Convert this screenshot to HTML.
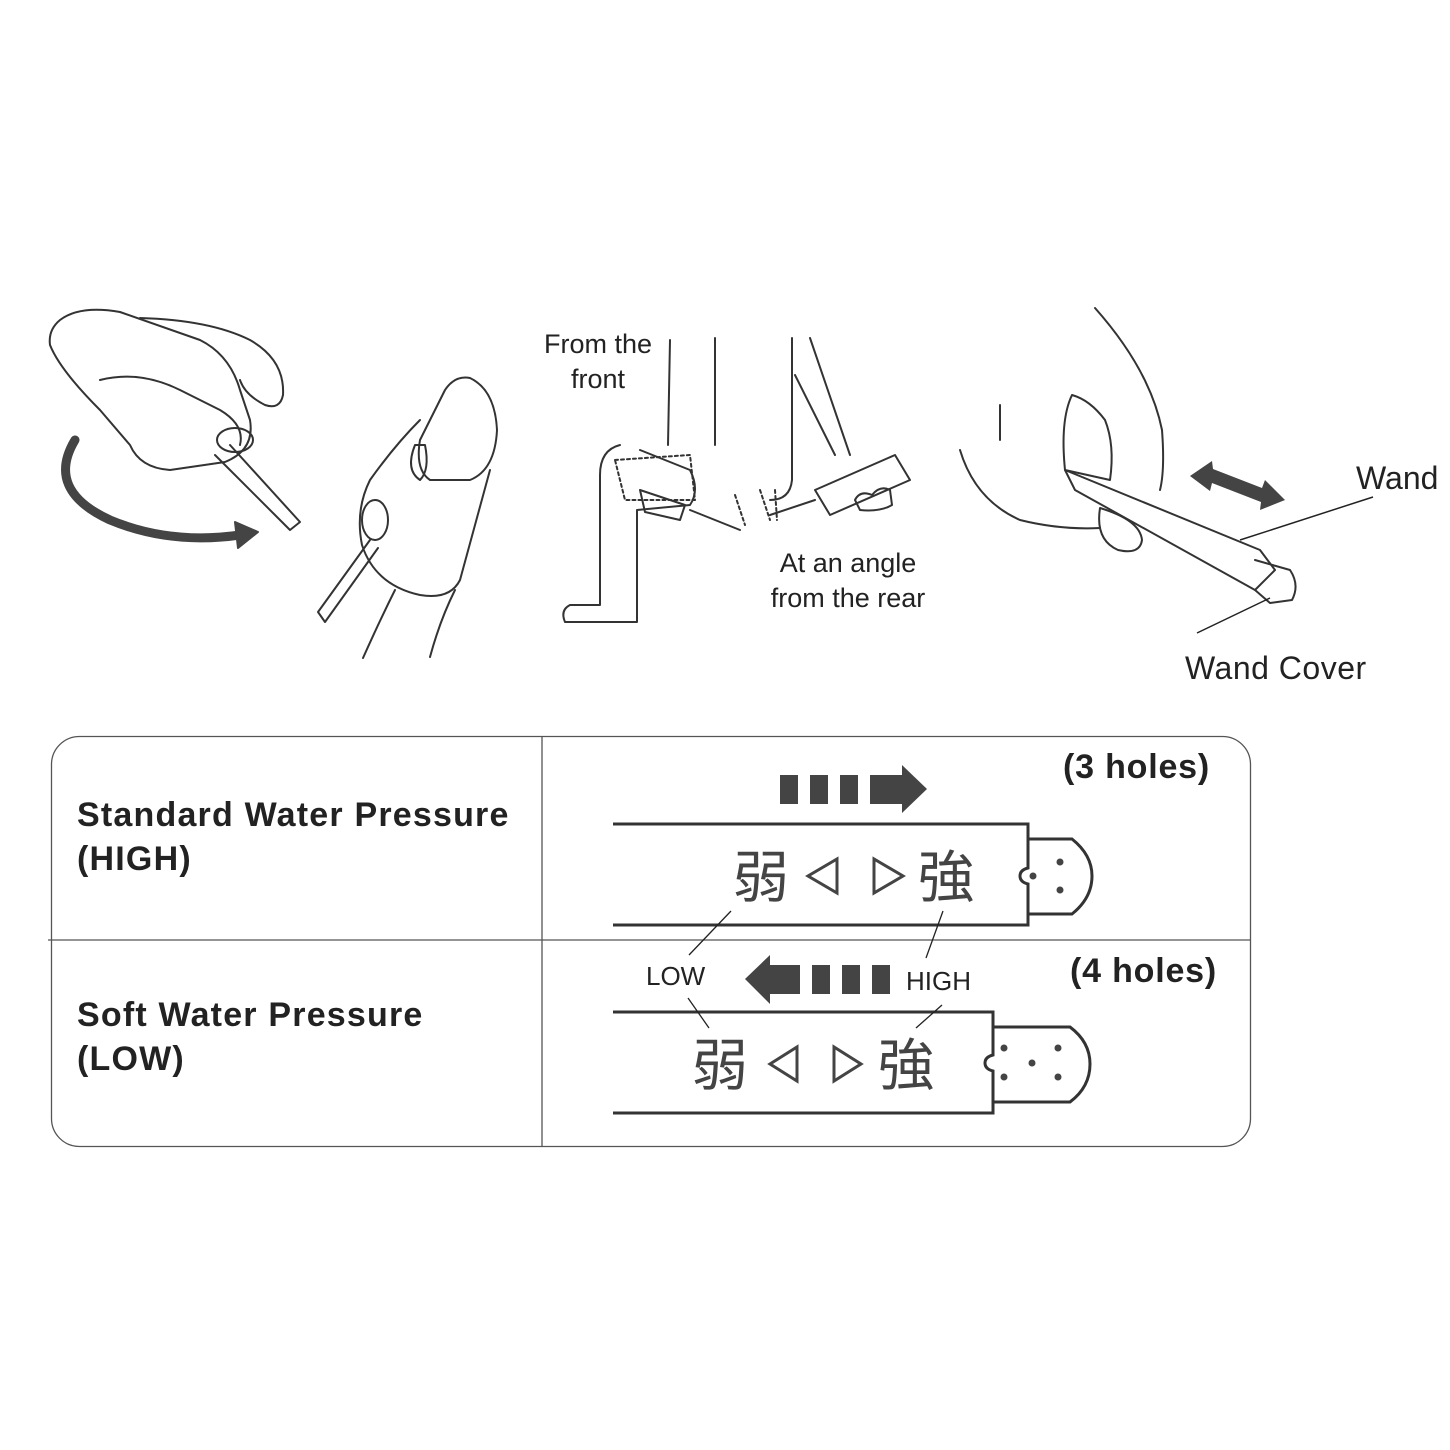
<!DOCTYPE html>
<html><head><meta charset="utf-8"><style>
html,body{margin:0;padding:0;background:#fff;}
svg{display:block;}
text{font-family:"Liberation Sans","Noto Sans CJK JP",sans-serif;fill:#222;}
</style></head><body>
<svg width="1450" height="1450" viewBox="0 0 1450 1450" xmlns="http://www.w3.org/2000/svg">
<g fill="none" stroke="#333" stroke-width="2" stroke-linecap="round" stroke-linejoin="round">
<path d="M60 320 Q80 305 120 312 L200 340 Q230 355 240 390 L250 420 Q255 450 225 462 L170 470 Q140 468 130 445 L100 410 Q60 370 50 345 Q48 330 60 320Z"/>
<path d="M100 380 Q140 370 180 390 L220 410 Q245 425 240 445"/>
<path d="M140 318 Q210 320 250 340 Q285 360 283 395 Q280 410 265 405 Q245 395 240 380"/>
<ellipse cx="235" cy="440" rx="18" ry="12"/>
<path d="M215 455 L290 530 L300 522 L230 445"/>
<path d="M75 440 Q45 490 110 520 Q170 545 240 535" stroke="#444" stroke-width="9"/>
<path d="M235 522 L258 532 L238 548Z" fill="#444" stroke="#444"/>
<path d="M470 378 Q495 390 497 430 Q495 470 470 480 L430 480 Q415 470 420 440 L445 390 Q455 375 470 378Z"/>
<path d="M420 420 Q395 445 370 480 Q355 510 362 545 Q375 585 420 595 Q450 600 460 580 L490 470"/>
<ellipse cx="375" cy="520" rx="13" ry="20"/>
<path d="M370 540 L318 612 L325 622 L378 548"/>
<path d="M363 658 Q380 620 395 590 M430 657 Q440 620 455 590"/>
<path d="M415 445 Q405 470 420 480 Q430 470 425 445Z"/>
<path d="M670 340 L668 445 M715 338 L715 445 M620 445 Q600 450 600 475 L600 605 L570 605 Q560 610 565 622 L637 622 L637 510 L690 505 Q700 490 690 470 L640 450"/>
<path d="M792 338 L792 480 Q790 500 770 500 M810 338 L850 455 M795 375 L835 455"/>
<path d="M815 490 L895 455 L910 480 L830 515Z"/>
<path d="M855 500 Q860 490 872 495 Q880 485 890 490 L892 505 Q880 512 860 510Z"/>
<path d="M690 510 L740 530 M770 515 L815 500" />
<path d="M615 460 L690 455 L695 500 L625 500Z" stroke-dasharray="3 3"/>
<path d="M640 490 L685 505 L680 520 L645 512Z"/>
<path d="M735 495 L745 525 M760 490 L770 520 M775 490 L777 520" stroke-dasharray="3 3"/>
<path d="M1095 308 Q1150 370 1162 430 Q1165 470 1160 490"/>
<path d="M1000 405 L1000 440 M960 450 Q975 500 1020 520 Q1060 530 1100 528"/>
<path d="M1072 395 Q1090 400 1105 420 Q1115 445 1110 480 L1065 470 Q1060 420 1072 395Z"/>
<path d="M1065 470 L1260 550 L1275 570 L1255 590 L1075 490Z"/>
<path d="M1255 560 L1290 570 Q1300 585 1292 600 L1270 603 L1255 590"/>
<path d="M1100 508 Q1140 520 1142 540 Q1140 555 1118 550 Q1095 540 1100 508Z"/>
</g>
<path d="M1190 476 L1212 461 L1213 469 L1262 488 L1265 480 L1285 500 L1260 510 L1261 502 L1212 483 L1210 491Z" fill="#444"/>
<g stroke="#222" stroke-width="1.5">
<line x1="1240" y1="540" x2="1373" y2="497"/>
<line x1="1197" y1="633" x2="1270" y2="598"/>
</g>
<text x="598" y="353" font-size="27" text-anchor="middle">From the</text>
<text x="598" y="388" font-size="27" text-anchor="middle">front</text>
<text x="848" y="572" font-size="27" text-anchor="middle">At an angle</text>
<text x="848" y="607" font-size="27" text-anchor="middle">from the rear</text>
<text x="1356" y="489" font-size="32">Wand</text>
<text x="1185" y="679" font-size="32" letter-spacing="0.5">Wand Cover</text>

<rect x="51.5" y="736.5" width="1199" height="410" rx="28" fill="none" stroke="#555" stroke-width="1.3"/>
<line x1="542" y1="736" x2="542" y2="1146" stroke="#555" stroke-width="1.3"/>
<line x1="48" y1="940" x2="1250" y2="940" stroke="#555" stroke-width="1.3"/>
<g font-weight="bold" font-size="34" letter-spacing="1.2">
<text x="77" y="826">Standard Water Pressure</text>
<text x="77" y="870">(HIGH)</text>
<text x="77" y="1026">Soft Water Pressure</text>
<text x="77" y="1070">(LOW)</text>
</g>
<g font-weight="bold" font-size="34" letter-spacing="0.8">
<text x="1063" y="778">(3 holes)</text>
<text x="1070" y="982">(4 holes)</text>
</g>
<g fill="none" stroke="#333" stroke-width="3">
<path d="M613 824 L1028 824 L1028 868 Q1020 870 1020 876 Q1020 882 1028 884 L1028 925 L613 925"/>
<path d="M1028 839 L1072 839 Q1092 855 1092 876 Q1092 898 1072 914 L1028 914"/>
<path d="M613 1012 L993 1012 L993 1055 Q985 1057 985 1063 Q985 1069 993 1071 L993 1113 L613 1113"/>
<path d="M993 1027 L1070 1027 Q1090 1042 1090 1064 Q1090 1087 1070 1102 L993 1102"/>
</g>
<g fill="#444">
<circle cx="1060" cy="862" r="3.5"/><circle cx="1060" cy="890" r="3.5"/><circle cx="1033" cy="876" r="3.5"/>
<circle cx="1004" cy="1048" r="3.5"/><circle cx="1004" cy="1077" r="3.5"/><circle cx="1032" cy="1063" r="3.5"/><circle cx="1058" cy="1048" r="3.5"/><circle cx="1058" cy="1077" r="3.5"/>
<rect x="780" y="775" width="18" height="29"/><rect x="810" y="775" width="18" height="29"/><rect x="840" y="775" width="18" height="29"/>
<path d="M870 775 L902 775 L902 765 L927 789 L902 813 L902 804 L870 804Z"/>
<rect x="812" y="965" width="18" height="29"/><rect x="842" y="965" width="18" height="29"/><rect x="872" y="965" width="18" height="29"/>
<path d="M800 965 L770 965 L770 955 L745 979 L770 1004 L770 994 L800 994Z"/>
</g>
<g font-size="56">
<text x="733" y="897" style="fill:#444">弱</text>
<text x="918" y="897" style="fill:#444">強</text>
<text x="692" y="1085" style="fill:#444">弱</text>
<text x="878" y="1085" style="fill:#444">強</text>
</g>
<g fill="none" stroke="#444" stroke-width="3">
<path d="M837 859 L837 893 L808 876Z"/><path d="M874 859 L874 893 L903 876Z"/>
<path d="M797 1047 L797 1081 L770 1064Z"/><path d="M834 1047 L834 1081 L861 1064Z"/>
</g>
<g stroke="#222" stroke-width="1.3">
<line x1="689" y1="955" x2="731" y2="911"/><line x1="688" y1="998" x2="709" y2="1028"/>
<line x1="926" y1="958" x2="943" y2="911"/><line x1="916" y1="1028" x2="942" y2="1005"/>
</g>
<text x="646" y="985" font-size="26">LOW</text>
<text x="906" y="990" font-size="26">HIGH</text>
</svg>
</body></html>
